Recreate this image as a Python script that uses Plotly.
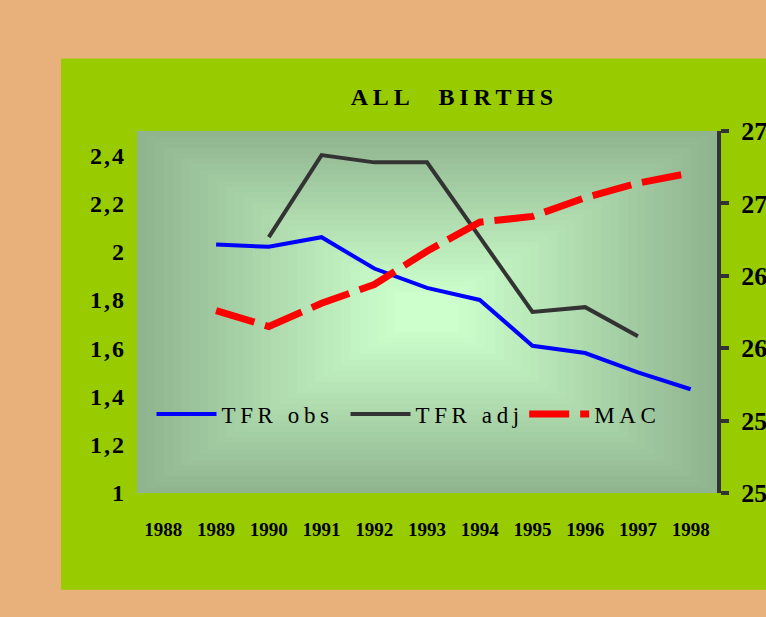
import plotly.graph_objects as go

# data
years = [str(y) for y in range(1988, 1999)]

obs_years = [str(y) for y in range(1989, 1999)]
tfr_obs = [2.03, 2.02, 2.06, 1.93, 1.85, 1.80, 1.61, 1.58, 1.50, 1.43]

adj_years = [str(y) for y in range(1990, 1998)]
tfr_adj = [2.06, 2.40, 2.37, 2.37, 2.06, 1.75, 1.77, 1.65]

mac_years = [str(y) for y in range(1989, 1999)]
mac = [26.26, 26.15, 26.31, 26.44, 26.67, 26.87, 26.91, 27.04, 27.14, 27.21]

left_ticks = [1, 1.2, 1.4, 1.6, 1.8, 2, 2.2, 2.4]
right_ticks = [25, 25.5, 26, 26.5, 27, 27.5]

SERIF = "Liberation Serif, Times New Roman, serif"
TAN = "#E8B07A"
GREEN = "#99CC00"


def spaced(s, gap="\u2009"):
    # crude letter spacing
    return gap.join(list(s))


def comma(v):
    return spaced(f"{v:g}".replace(".", ","), "\u200a")


fig = go.Figure()

fig.add_trace(go.Scatter(x=obs_years, y=tfr_obs, mode="lines", name=spaced("TFR obs") + "\u2002",
                         line=dict(color="#0000FF", width=4)))
fig.add_trace(go.Scatter(x=adj_years, y=tfr_adj, mode="lines", name=spaced("TFR adj"),
                         line=dict(color="#333333", width=4)))
fig.add_trace(go.Scatter(x=mac_years, y=mac, mode="lines", name=spaced("MAC"), yaxis="y2",
                         line=dict(color="#FF0000", width=7, dash="40px,11px")))

# green panel behind the chart
shapes = [dict(type="rect", xref="paper", yref="paper", x0=-0.131, x1=1.2, y0=-0.267, y1=1.2,
               fillcolor=GREEN, line=dict(width=0), layer="below")]

# rectangular "from centre" gradient in the plot area
edge = (143, 180, 143)
centre = (204, 255, 204)
n = 30
for k in range(n):
    t = k / (n - 1)
    c = tuple(round(edge[i] + (centre[i] - edge[i]) * t) for i in range(3))
    m = 0.46 * k / n
    shapes.append(dict(type="rect", xref="x domain", yref="y domain",
                       x0=m, x1=1 - m, y0=m, y1=1 - m,
                       fillcolor="rgb(%d,%d,%d)" % c, line=dict(width=0), layer="below"))

fig.update_layout(
    width=766, height=617,
    margin=dict(l=137, r=49, t=131, b=124),
    paper_bgcolor=TAN,
    plot_bgcolor="rgb(143,180,143)",
    separators=", ",
    shapes=shapes,
    title=dict(text=spaced("ALL") + "\u2003\u2009" + spaced("BIRTHS"),
               x=0.543, xref="paper", xanchor="center",
               y=1 - 97 / 617, yanchor="middle",
               font=dict(family=SERIF, size=24, color="black", weight="bold")),
    showlegend=True,
    legend=dict(orientation="h", x=0.025, y=0.218, xanchor="left", yanchor="middle",
                bgcolor="rgba(0,0,0,0)", itemwidth=60,
                font=dict(family=SERIF, size=23, color="black")),
    xaxis=dict(type="category", categoryorder="array", categoryarray=years,
               range=[-0.5, 10.5], showgrid=False, zeroline=False, showline=False,
               ticks="outside", ticklen=0, ticklabelstandoff=19,
               tickfont=dict(family=SERIF, size=19, color="black", weight="bold")),
    yaxis=dict(range=[1, 2.5], tickvals=left_ticks, ticktext=[comma(v) for v in left_ticks],
               showgrid=False, zeroline=False, showline=False, ticks="", ticklabelstandoff=12,
               tickfont=dict(family=SERIF, size=24, color="black", weight="bold")),
    yaxis2=dict(range=[25, 27.5], tickvals=right_ticks, overlaying="y", side="right",
                showgrid=False, zeroline=False, showline=True, linecolor="#333333",
                linewidth=4, ticks="outside", ticklen=8, tickwidth=4, tickcolor="#333333",
                ticklabelstandoff=7, automargin=False,
                tickfont=dict(family=SERIF, size=26, color="black", weight="bold")),
    # inner half of the crossing tick marks
    yaxis3=dict(range=[25, 27.5], tickvals=right_ticks, overlaying="y", side="right",
                showgrid=False, zeroline=False, showline=False, showticklabels=False,
                ticks="inside", ticklen=7, tickwidth=4, tickcolor="#333333",
                automargin=False),
)

# drop the default 8px page margin so the figure sits at the window corner
fig.write_html("out.html", config={"displayModeBar": False},
               post_script="document.body.style.margin='0';")
